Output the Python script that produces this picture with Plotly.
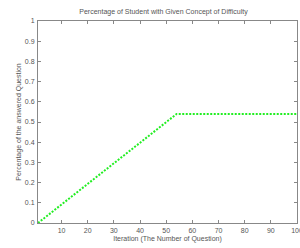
import plotly.graph_objects as go

iteration = [1, 54, 100]
percentage = [0.0, 0.54, 0.54]
x_ticks = [10, 20, 30, 40, 50, 60, 70, 80, 90, 100]
y_ticks = [0, 0.1, 0.2, 0.3, 0.4, 0.5, 0.6, 0.7, 0.8, 0.9, 1]
y_tick_text = ["0", "0.1", "0.2", "0.3", "0.4", "0.5", "0.6", "0.7", "0.8", "0.9", "1"]

fig = go.Figure()
fig.add_trace(go.Scatter(
    x=iteration, y=percentage, mode="lines",
    line=dict(color="#22ee22", width=2, dash="2px,1.5px"),
    showlegend=False,
))

txt_color = "#555555"
axis_common = dict(
    showline=True, linecolor="#888888", linewidth=1, mirror="ticks",
    ticks="inside", ticklen=3, tickcolor="#888888",
    showgrid=False, zeroline=False, ticklabeloverflow="allow", automargin=False,
    tickfont=dict(family="Liberation Sans, Arial", size=7, color=txt_color),
)

fig.update_layout(
    width=300, height=248,
    paper_bgcolor="white", plot_bgcolor="white",
    margin=dict(l=38, r=3, t=21, b=25),
    title=dict(text="Percentage of Student with Given Concept of Difficulty",
               x=0.545, xanchor="center", y=0.955, yanchor="middle",
               font=dict(family="Liberation Sans, Arial", size=7, color=txt_color)),
    xaxis=dict(range=[1, 100], tickvals=x_ticks, ticklabelstandoff=1,
               title=dict(text="Iteration (The Number of Question)", standoff=2,
                          font=dict(family="Liberation Sans, Arial", size=7, color=txt_color)),
               **axis_common),
    yaxis=dict(range=[0, 1], tickvals=y_ticks, ticktext=y_tick_text, ticklabelstandoff=1,
               title=dict(text="Percentage of the answered Question", standoff=2,
                          font=dict(family="Liberation Sans, Arial", size=7, color=txt_color)),
               **axis_common),
)

fig.write_html("out.html", config={"displayModeBar": False},
               post_script="document.body.style.margin='0';document.body.style.overflow='hidden';")
